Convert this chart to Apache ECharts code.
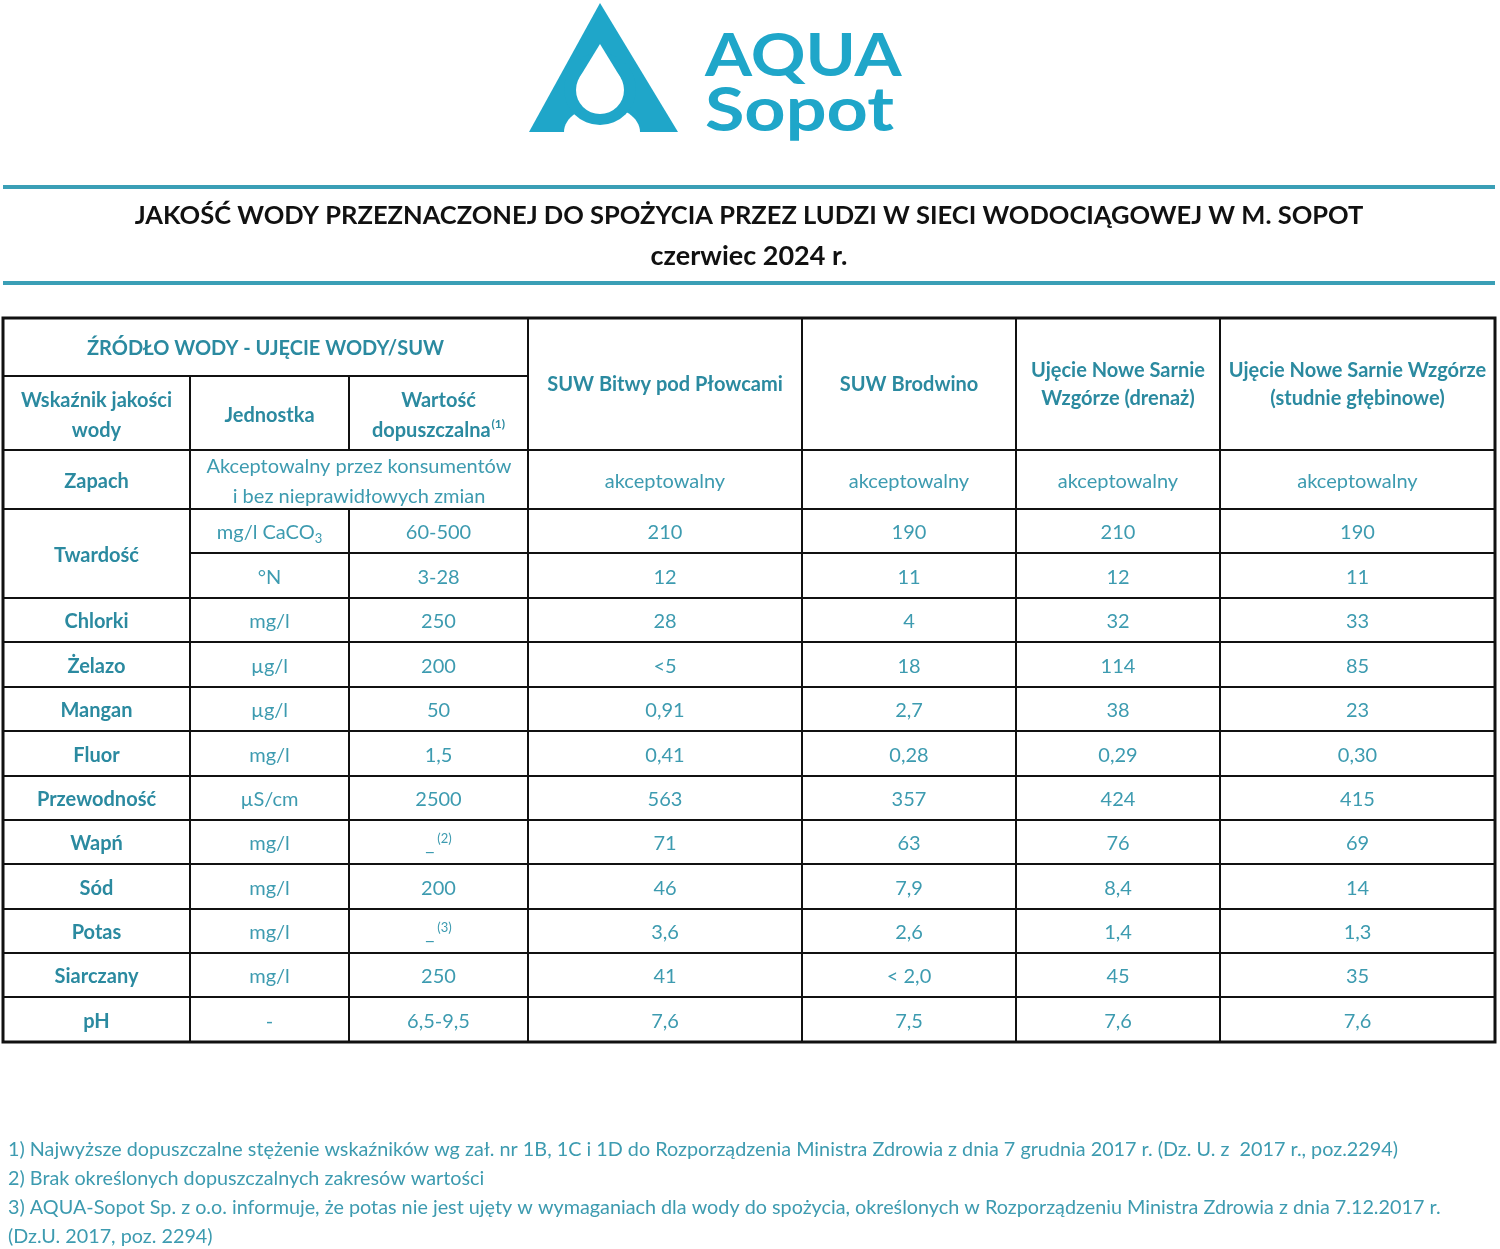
<!DOCTYPE html>
<html>
<head>
<meta charset="utf-8">
<script src="https://cdn.jsdelivr.net/npm/echarts@6/dist/echarts.min.js"></script>
<style>
  * { margin: 0; padding: 0; }
  body { background: #fff; }
  #chart-container { width: 1500px; height: 1249px; }
</style>
</head>
<body>
<div id="chart-container"></div>
<script>
  // ---- data ----
  var titleText = 'JAKOŚĆ WODY PRZEZNACZONEJ DO SPOŻYCIA PRZEZ LUDZI W SIECI WODOCIĄGOWEJ W M. SOPOT'
  var periodText = 'czerwiec 2024 r.'
  var groupHeader = 'ŹRÓDŁO WODY - UJĘCIE WODY/SUW'
  var colHeaders = ['Wskaźnik jakości\nwody', 'Jednostka', '{b|Wartość}\n{b|dopuszczalna}{sup|(1)}']
  var sources = [
    'SUW Bitwy pod Płowcami',
    'SUW Brodwino',
    'Ujęcie Nowe Sarnie\nWzgórze (drenaż)',
    'Ujęcie Nowe Sarnie Wzgórze\n(studnie głębinowe)'
  ]
  // rows 1 and 2 are both "Twardość" (merged in the first column)
  var indicators = ['Zapach', 'Twardość', 'Twardość', 'Chlorki', 'Żelazo', 'Mangan', 'Fluor',
    'Przewodność', 'Wapń', 'Sód', 'Potas', 'Siarczany', 'pH']
  var units = ['', 'mg/l CaCO{sub|3}', '°N', 'mg/l', 'µg/l', 'µg/l', 'mg/l', 'µS/cm', 'mg/l', 'mg/l', 'mg/l', 'mg/l', '-']
  var limits = ['Akceptowalny przez konsumentów\ni bez nieprawidłowych zmian', '60-500', '3-28', '250', '200', '50',
    '1,5', '2500', '_{sup|(2)}', '200', '_{sup|(3)}', '250', '6,5-9,5']
  var valBitwy = ['akceptowalny', '210', '12', '28', '<5', '0,91', '0,41', '563', '71', '46', '3,6', '41', '7,6']
  var valBrodwino = ['akceptowalny', '190', '11', '4', '18', '2,7', '0,28', '357', '63', '7,9', '2,6', '< 2,0', '7,5']
  var valDrenaz = ['akceptowalny', '210', '12', '32', '114', '38', '0,29', '424', '76', '8,4', '1,4', '45', '7,6']
  var valStudnie = ['akceptowalny', '190', '11', '33', '85', '23', '0,30', '415', '69', '14', '1,3', '35', '7,6']
  var footnotes = [
    '1) Najwyższe dopuszczalne stężenie wskaźników wg zał. nr 1B, 1C i 1D do Rozporządzenia Ministra Zdrowia z dnia 7 grudnia 2017 r. (Dz. U. z  2017 r., poz.2294)',
    '2) Brak określonych dopuszczalnych zakresów wartości',
    '3) AQUA-Sopot Sp. z o.o. informuje, że potas nie jest ujęty w wymaganiach dla wody do spożycia, określonych w Rozporządzeniu Ministra Zdrowia z dnia 7.12.2017 r.',
    '(Dz.U. 2017, poz. 2294)'
  ]

  // ---- layout / style ----
  var FONT = 'Lato, "Open Sans", sans-serif'
  var BOLD_C = '#2b8aa0'
  var REG_C = '#3d9bb0'
  var LOGO_C = '#1fa6c9'
  var RULE_C = '#3a9fb6'
  var colX = [3, 190, 349, 528, 802, 1016, 1220, 1495]
  var headTop = 318, headMid = 376, headBot = 450
  var rowY = [450, 509, 553, 598, 642, 687, 731, 776, 820, 864, 909, 953, 997, 1042]
  var TXT_DY = 2

  var chartDom = document.getElementById('chart-container')
  var myChart = echarts.init(chartDom, null, { renderer: 'canvas' })

  var rich = {
    b: { fontFamily: FONT, fontWeight: 'bold', fontSize: 20, fill: BOLD_C, lineHeight: 30 },
    sup: { fontFamily: FONT, fontWeight: 'bold', fontSize: 12, fill: BOLD_C, verticalAlign: 'top', padding: [2, 0, 0, 1] },
    sub: { fontFamily: FONT, fontSize: 13, fill: REG_C, verticalAlign: 'bottom', padding: [0, 0, 0, 0] }
  }
  var richReg = {
    sup: { fontFamily: FONT, fontSize: 13, fill: REG_C, verticalAlign: 'top', padding: [0, 0, 0, 3] },
    sub: { fontFamily: FONT, fontSize: 13, fill: REG_C, verticalAlign: 'bottom' }
  }

  var els = []

  function cell(x0, x1, y0, y1) {
    els.push({
      type: 'rect', shape: { x: x0, y: y0, width: x1 - x0, height: y1 - y0 },
      style: { fill: '#fff', stroke: '#111', lineWidth: 2 }, z: 1
    })
  }
  function txt(x, y, text, bold, extra) {
    var st = {
      text: text, x: x, y: y + TXT_DY, align: 'center', verticalAlign: 'middle',
      font: (bold ? 'bold ' : '') + '20px ' + FONT, fill: bold ? BOLD_C : REG_C, lineHeight: 30
    }
    if (extra) for (var k in extra) st[k] = extra[k]
    els.push({ type: 'text', style: st, z: 5 })
  }

  // logo
  els.push({ type: 'polygon', shape: { points: [[600, 3], [529, 132], [678, 132]] }, style: { fill: LOGO_C }, z: 2 })
  els.push({ type: 'ellipse', shape: { cx: 602, cy: 132, rx: 38, ry: 26 }, style: { fill: '#fff' }, z: 3 })
  els.push({ type: 'circle', shape: { cx: 600, cy: 89, r: 36 }, style: { fill: LOGO_C }, z: 3 })
  els.push({ type: 'circle', shape: { cx: 600, cy: 90, r: 24 }, style: { fill: '#fff' }, z: 4 })
  els.push({ type: 'polygon', shape: { points: [[600, 44], [579.5, 77.5], [620.5, 77.5]] }, style: { fill: '#fff' }, z: 4 })
  els.push({
    type: 'text', x: 705, y: 57, scaleX: 1.13,
    style: { text: 'AQUA', x: 0, y: 0, verticalAlign: 'middle', font: 'bold 60px ' + FONT, fill: LOGO_C }, z: 5
  })
  els.push({
    type: 'text', x: 705, y: 111, scaleX: 1.18,
    style: { text: 'Sopot', x: 0, y: 0, verticalAlign: 'middle', font: 'bold 61px ' + FONT, fill: LOGO_C }, z: 5
  })

  // title rules and title
  els.push({ type: 'rect', shape: { x: 3, y: 185, width: 1492, height: 4 }, style: { fill: RULE_C }, z: 2 })
  els.push({ type: 'rect', shape: { x: 3, y: 281, width: 1492, height: 4 }, style: { fill: RULE_C }, z: 2 })
  els.push({ type: 'text', style: { text: titleText, x: 749, y: 216, align: 'center', verticalAlign: 'middle', font: 'bold 25.5px ' + FONT, fill: '#111' }, z: 5 })
  els.push({ type: 'text', style: { text: periodText, x: 749, y: 256, align: 'center', verticalAlign: 'middle', font: 'bold 27px ' + FONT, fill: '#111' }, z: 5 })

  // header cells
  cell(colX[0], colX[3], headTop, headMid)
  txt((colX[0] + colX[3]) / 2, (headTop + headMid) / 2, groupHeader, true)
  for (var c = 0; c < 3; c++) {
    cell(colX[c], colX[c + 1], headMid, headBot)
    if (c === 2) {
      txt((colX[c] + colX[c + 1]) / 2, (headMid + headBot) / 2 + 1, colHeaders[c], true, { rich: rich })
    } else {
      txt((colX[c] + colX[c + 1]) / 2, (headMid + headBot) / 2 + 1, colHeaders[c], true)
    }
  }
  for (var s = 0; s < sources.length; s++) {
    cell(colX[3 + s], colX[4 + s], headTop, headBot)
    txt((colX[3 + s] + colX[4 + s]) / 2, (headTop + headBot) / 2 - 1, sources[s], true, { lineHeight: 28 })
  }

  // body
  var values = [valBitwy, valBrodwino, valDrenaz, valStudnie]
  for (var r = 0; r < indicators.length; r++) {
    var y0 = rowY[r], y1 = rowY[r + 1], cy = (y0 + y1) / 2
    // first column (merge repeated indicator)
    if (r === 0 || indicators[r] !== indicators[r - 1]) {
      var span = 1
      while (r + span < indicators.length && indicators[r + span] === indicators[r]) span++
      var yb = rowY[r + span]
      cell(colX[0], colX[1], y0, yb)
      txt((colX[0] + colX[1]) / 2, (y0 + yb) / 2, indicators[r], true)
    }
    if (units[r] === '') {
      // unit empty: limit spans unit + limit columns
      cell(colX[1], colX[3], y0, y1)
      txt((colX[1] + colX[3]) / 2, cy, limits[r], false)
    } else {
      cell(colX[1], colX[2], y0, y1)
      txt((colX[1] + colX[2]) / 2, cy, units[r], false, { rich: richReg, lineHeight: 24 })
      cell(colX[2], colX[3], y0, y1)
      txt((colX[2] + colX[3]) / 2, cy, limits[r], false, { rich: richReg, lineHeight: 24 })
    }
    for (var v = 0; v < values.length; v++) {
      cell(colX[3 + v], colX[4 + v], y0, y1)
      txt((colX[3 + v] + colX[4 + v]) / 2, cy, values[v][r], false)
    }
  }
  // outer border
  els.push({
    type: 'rect', shape: { x: colX[0], y: headTop, width: colX[7] - colX[0], height: rowY[rowY.length - 1] - headTop },
    style: { fill: 'none', stroke: '#111', lineWidth: 3 }, z: 6
  })

  // footnotes
  var footY = [1150, 1179, 1208, 1237]
  for (var f = 0; f < footnotes.length; f++) {
    els.push({ type: 'text', style: { text: footnotes[f], x: 8, y: footY[f], verticalAlign: 'middle', font: '19.8px ' + FONT, fill: REG_C }, z: 5 })
  }

  var option = {
    animation: false,
    backgroundColor: '#fff',
    graphic: { elements: els }
  }
  myChart.setOption(option)
  window.addEventListener('resize', myChart.resize)
</script>
</body>
</html>
